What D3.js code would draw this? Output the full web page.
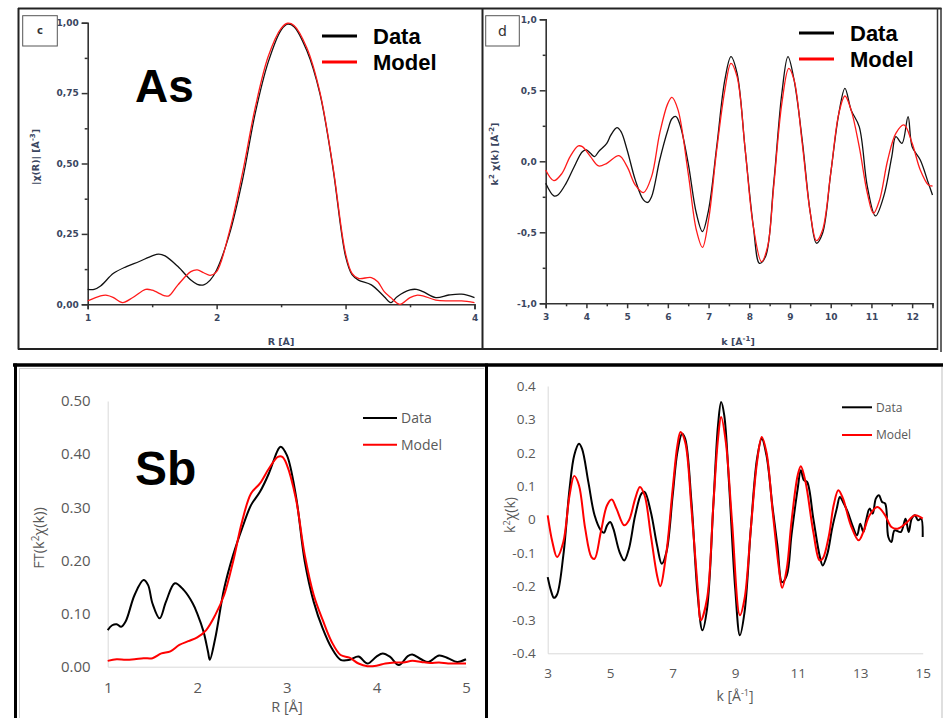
<!DOCTYPE html>
<html>
<head>
<meta charset="utf-8">
<script src="https://cdn.jsdelivr.net/npm/d3@7"></script>
<style>
	body { margin: 0; background: #fff; }
	svg { display: block; }
</style>
</head>
<body>
<div id="chart"></div>
<script>
// ---- As, Fourier transform |chi(R)| (panel c) ----
const asRDataR = [1.0,1.05,1.1,1.2,1.3,1.4,1.5,1.55,1.6,1.7,1.8,1.85,1.9,1.95,2.0,2.1,2.2,2.3,2.4,2.5,2.55,2.6,2.7,2.8,2.9,3.0,3.05,3.1,3.2,3.3,3.35,3.4,3.5,3.55,3.6,3.7,3.8,3.9,4.0]
const asRData = [0.053,0.053,0.065,0.11,0.134,0.152,0.172,0.178,0.172,0.134,0.086,0.071,0.069,0.086,0.122,0.25,0.44,0.68,0.86,0.974,0.995,0.986,0.90,0.75,0.49,0.17,0.105,0.086,0.069,0.027,0.006,0.027,0.051,0.053,0.045,0.024,0.033,0.036,0.024]
const asRModelR = [1.0,1.1,1.15,1.2,1.27,1.35,1.45,1.5,1.6,1.63,1.7,1.8,1.85,1.9,1.95,2.0,2.1,2.2,2.3,2.4,2.5,2.55,2.6,2.7,2.8,2.9,3.0,3.05,3.1,3.2,3.25,3.3,3.35,3.42,3.5,3.55,3.6,3.7,3.8,3.9,4.0]
const asRModel = [0.012,0.03,0.032,0.024,0.006,0.024,0.053,0.05,0.03,0.03,0.069,0.116,0.122,0.112,0.103,0.116,0.26,0.465,0.70,0.88,0.98,0.998,0.99,0.91,0.755,0.495,0.18,0.11,0.092,0.095,0.08,0.045,0.024,0.0,0.024,0.032,0.03,0.015,0.012,0.012,0.006]
const asRXTicks = [1, 2, 3, 4]
const asRXMinor = [1.5, 2.5, 3.5]
const asRYTicks = [0, 0.25, 0.5, 0.75, 1]
const asRYMinor = [0.125, 0.375, 0.625, 0.875]

// ---- As, k^2 chi(k) (panel d) ----
const asKDataK = [3.0,3.2,3.3,3.5,3.7,3.9,4.0,4.1,4.2,4.3,4.5,4.6,4.75,4.85,5.0,5.2,5.4,5.5,5.6,5.8,6.0,6.1,6.2,6.3,6.5,6.7,6.85,7.0,7.2,7.4,7.55,7.7,7.9,8.1,8.25,8.4,8.6,8.8,8.95,9.1,9.3,9.5,9.65,9.8,10.0,10.2,10.35,10.5,10.7,10.9,11.1,11.3,11.5,11.6,11.75,11.9,12.0,12.2,12.4,12.5]
const asKData = [-0.155,-0.244,-0.237,-0.155,-0.038,0.068,0.08,0.056,0.033,0.068,0.127,0.185,0.237,0.209,0.08,-0.131,-0.272,-0.29,-0.249,0.009,0.22,0.30,0.315,0.256,-0.014,-0.366,-0.495,-0.343,0.103,0.573,0.737,0.62,0.08,-0.46,-0.718,-0.67,-0.155,0.479,0.737,0.573,0.15,-0.366,-0.577,-0.507,-0.085,0.338,0.514,0.362,0.244,-0.178,-0.385,-0.249,0.033,0.174,0.127,0.315,0.103,0.009,-0.155,-0.237]
const asKModelK = [3.0,3.2,3.4,3.6,3.8,3.9,4.1,4.3,4.5,4.8,5.0,5.2,5.4,5.6,5.8,6.0,6.1,6.25,6.5,6.7,6.85,7.0,7.2,7.4,7.55,7.7,7.9,8.1,8.3,8.45,8.6,8.8,8.97,9.1,9.3,9.5,9.65,9.8,10.0,10.2,10.35,10.5,10.7,10.9,11.05,11.2,11.4,11.6,11.8,12.0,12.2,12.4,12.5]
const asKModel = [-0.061,-0.136,-0.085,0.033,0.108,0.103,0.033,-0.033,-0.014,0.04,-0.038,-0.167,-0.221,-0.108,0.197,0.408,0.45,0.362,-0.085,-0.484,-0.606,-0.413,0.08,0.502,0.69,0.596,0.08,-0.46,-0.707,-0.601,-0.178,0.408,0.655,0.573,0.127,-0.366,-0.559,-0.484,-0.085,0.338,0.46,0.362,0.103,-0.225,-0.366,-0.272,0.009,0.197,0.256,0.127,-0.061,-0.167,-0.174]
const asKXTicks = [3, 4, 5, 6, 7, 8, 9, 10, 11, 12]
const asKXMinor = [3.5, 4.5, 5.5, 6.5, 7.5, 8.5, 9.5, 10.5, 11.5, 12.5]
const asKYTicks = [-1, -0.5, 0, 0.5, 1]
const asKYMinor = [-0.75, -0.25, 0.25, 0.75]

// ---- Sb, FT(k^2 chi(k)) ----
const sbRDataR = [1.0,1.05,1.1,1.15,1.2,1.3,1.4,1.45,1.5,1.58,1.65,1.75,1.85,1.95,2.0,2.07,2.12,2.14,2.2,2.3,2.4,2.5,2.6,2.7,2.8,2.9,2.93,3.0,3.1,3.2,3.3,3.4,3.5,3.6,3.7,3.8,3.9,4.0,4.07,4.15,4.25,4.35,4.4,4.5,4.58,4.7,4.8,4.9,5.0]
const sbRData = [0.069,0.078,0.08,0.075,0.085,0.135,0.163,0.154,0.119,0.091,0.122,0.157,0.144,0.119,0.10,0.066,0.028,0.013,0.053,0.147,0.21,0.26,0.304,0.329,0.364,0.408,0.414,0.398,0.323,0.198,0.122,0.072,0.035,0.013,0.013,0.019,0.006,0.019,0.025,0.019,0.003,0.02,0.023,0.014,0.009,0.021,0.016,0.009,0.014]
const sbRModelR = [1.0,1.1,1.2,1.3,1.4,1.5,1.6,1.7,1.8,1.9,2.0,2.1,2.2,2.3,2.4,2.5,2.6,2.7,2.8,2.9,2.95,3.0,3.1,3.2,3.3,3.4,3.5,3.6,3.7,3.8,3.9,4.0,4.1,4.2,4.3,4.4,4.5,4.6,4.7,4.8,4.9,5.0]
const sbRModel = [0.011,0.014,0.013,0.014,0.016,0.016,0.025,0.029,0.041,0.048,0.055,0.069,0.097,0.135,0.198,0.273,0.326,0.345,0.373,0.395,0.395,0.38,0.317,0.21,0.135,0.088,0.047,0.022,0.017,0.006,0.001,0.002,0.006,0.008,0.008,0.011,0.009,0.007,0.008,0.006,0.006,0.006]
const sbRXTicks = [1, 2, 3, 4, 5]
const sbRYTicks = [0, 0.1, 0.2, 0.3, 0.4, 0.5]

// ---- Sb, k^2 chi(k) ----
const sbKDataK = [3.0,3.1,3.2,3.3,3.5,3.7,3.85,4.0,4.1,4.3,4.5,4.7,4.8,4.9,5.0,5.1,5.3,5.45,5.6,5.8,6.0,6.1,6.3,6.5,6.65,6.8,7.0,7.15,7.3,7.4,7.6,7.8,7.95,8.1,8.3,8.45,8.55,8.65,8.8,9.0,9.15,9.3,9.5,9.7,9.85,10.0,10.2,10.35,10.5,10.65,10.8,11.0,11.1,11.2,11.3,11.5,11.7,11.8,11.95,12.1,12.25,12.35,12.45,12.6,12.75,12.9,13.0,13.1,13.2,13.3,13.4,13.5,13.6,13.7,13.8,13.9,14.0,14.1,14.3,14.45,14.55,14.65,14.75,14.85,14.95,15.0]
const sbKData = [-0.172,-0.211,-0.234,-0.224,-0.107,0.093,0.193,0.227,0.212,0.113,0.013,-0.032,-0.039,-0.017,-0.007,-0.027,-0.097,-0.122,-0.087,0.013,0.078,0.083,0.023,-0.077,-0.132,-0.097,0.073,0.202,0.257,0.242,0.053,-0.226,-0.331,-0.266,0.043,0.282,0.352,0.312,0.113,-0.206,-0.346,-0.276,-0.027,0.183,0.242,0.193,0.033,-0.077,-0.187,-0.167,-0.047,0.093,0.148,0.118,0.113,0.003,-0.107,-0.137,-0.102,-0.027,0.033,0.068,0.053,0.023,-0.017,-0.047,-0.012,-0.037,0.003,0.033,0.018,0.063,0.073,0.053,0.048,-0.052,-0.067,-0.032,-0.037,0.003,-0.037,0.003,0.013,-0.002,0.003,-0.052]
const sbKModelK = [3.0,3.15,3.3,3.5,3.7,3.85,4.0,4.2,4.4,4.5,4.7,4.9,5.05,5.2,5.45,5.6,5.8,5.95,6.1,6.3,6.5,6.6,6.8,7.0,7.15,7.25,7.4,7.6,7.8,7.9,8.1,8.3,8.45,8.55,8.7,8.9,9.15,9.3,9.5,9.7,9.85,10.0,10.2,10.4,10.5,10.65,10.8,11.0,11.1,11.25,11.5,11.7,11.8,12.0,12.15,12.3,12.45,12.7,12.95,13.1,13.3,13.55,13.8,14.0,14.2,14.45,14.75,15.0]
const sbKModel = [0.013,-0.067,-0.112,-0.067,0.073,0.131,0.103,-0.027,-0.112,-0.117,-0.037,0.043,0.06,0.033,-0.017,-0.002,0.063,0.098,0.073,-0.047,-0.167,-0.199,-0.097,0.093,0.222,0.262,0.232,0.033,-0.206,-0.301,-0.236,0.043,0.242,0.307,0.232,-0.007,-0.286,-0.236,-0.027,0.173,0.247,0.202,0.023,-0.147,-0.204,-0.147,-0.007,0.133,0.16,0.113,-0.037,-0.122,-0.117,-0.047,0.043,0.088,0.063,-0.017,-0.062,-0.037,0.013,0.038,0.013,-0.022,-0.027,-0.012,0.013,0.003]
const sbKXTicks = [3, 5, 7, 9, 11, 13, 15]
const sbKYTicks = [-0.4, -0.3, -0.2, -0.1, 0, 0.1, 0.2, 0.3, 0.4]

const seriesNames = ['Data', 'Model']
const seriesColors = ['#111', '#ff1a1a']

const svg = d3.select('#chart')
	.append('svg')
	.attr('width', 943)
	.attr('height', 718)

svg.append('rect').attr('width', 943).attr('height', 718).attr('fill', '#fff')

// panel frames (pasted figure borders)
function frameLine(x1, y1, x2, y2, color, w) {
	svg.append('line')
		.attr('x1', x1).attr('y1', y1).attr('x2', x2).attr('y2', y2)
		.attr('stroke', color).attr('stroke-width', w)
}
frameLine(18.5, 8, 18.5, 349.5, '#222', 2)
frameLine(18, 8.5, 941.5, 8.5, '#222', 2)
frameLine(482.5, 8, 482.5, 349, '#222', 2)
frameLine(18, 349, 938, 349, '#222', 2)
frameLine(937.5, 8, 937.5, 350, '#333', 1.5)
frameLine(941, 8, 941, 352, '#333', 1.5)
frameLine(19.5, 368.5, 484, 368.5, '#d0d0d0', 1)
frameLine(19.5, 368, 19.5, 718, '#d0d0d0', 1)
frameLine(942, 367, 942, 718, '#bfbfbf', 1)
frameLine(13, 365, 943, 365, '#000', 3.5)
frameLine(15.5, 363.5, 15.5, 718, '#000', 3)
frameLine(486.5, 363.5, 486.5, 718, '#000', 3)

const commaFmt = dec => d => {
	const s = Math.abs(d).toFixed(dec).replace('.', ',')
	return (d < 0 ? '-' : '') + s
}
const dotFmt = dec => d => {
	if (Math.abs(d) < 1e-9) return '0'
	return (d < 0 ? '-' : '') + Math.abs(d).toFixed(dec)
}

function panel(cfg) {
	const x = d3.scaleLinear().domain(cfg.xDomain).range([cfg.left, cfg.right])
	const y = d3.scaleLinear().domain(cfg.yDomain).range([cfg.bottom, cfg.top])
	const g = svg.append('g')
	const origin = cfg.style === 'origin'

	const xAxis = d3.axisBottom(x).tickValues(cfg.xTicks).tickFormat(cfg.xFmt)
	const yAxis = d3.axisLeft(y).tickValues(cfg.yTicks).tickFormat(cfg.yFmt)
	if (origin) {
		xAxis.tickSize(5).tickPadding(5)
		yAxis.tickSize(6).tickPadding(3)
	} else {
		xAxis.tickSize(0).tickPadding(cfg.xPad)
		yAxis.tickSize(0).tickPadding(cfg.yPad)
	}
	const axisColor = origin ? '#333' : '#d9d9d9'
	const textColor = origin ? '#3b4660' : '#595959'

	const gx = g.append('g').attr('transform', `translate(0,${cfg.bottom})`).call(xAxis)
	const gy = g.append('g').attr('transform', `translate(${cfg.left},0)`).call(yAxis)
	for (const a of [gx, gy]) {
		a.select('.domain').attr('stroke', axisColor).attr('stroke-width', origin ? 1.6 : 1)
		a.selectAll('.tick line').attr('stroke', axisColor).attr('stroke-width', 1.5)
		a.selectAll('text')
			.attr('fill', textColor)
			.attr('font-family', origin ? 'DejaVu Sans' : 'Open Sans')
			.attr('font-weight', origin ? 'bold' : 'normal')
			.attr('font-size', cfg.tickSize)
	}
	if (origin) {
		g.append('g').attr('transform', `translate(0,${cfg.bottom})`)
			.call(d3.axisBottom(x).tickValues(cfg.xMinor).tickSize(3).tickFormat(''))
			.call(a => a.select('.domain').remove())
			.selectAll('.tick line').attr('stroke', axisColor).attr('stroke-width', 1.5)
		g.append('g').attr('transform', `translate(${cfg.left},0)`)
			.call(d3.axisLeft(y).tickValues(cfg.yMinor).tickSize(3).tickFormat(''))
			.call(a => a.select('.domain').remove())
			.selectAll('.tick line').attr('stroke', axisColor).attr('stroke-width', 1.5)
	}

	const line = d3.line()
		.x(d => x(d[0]))
		.y(d => y(d[1]))
		.curve(d3.curveCatmullRom.alpha(0.5))

	cfg.series.forEach((s, i) => {
		g.append('path')
			.datum(d3.zip(s.x, s.y))
			.attr('fill', 'none')
			.attr('stroke', origin ? seriesColors[i] : ['#000', '#ff0000'][i])
			.attr('stroke-width', cfg.lineWidth)
			.attr('stroke-linejoin', 'round')
			.attr('d', line)
	})

	// axis titles
	g.append('text')
		.attr('x', cfg.xTitlePos[0]).attr('y', cfg.xTitlePos[1])
		.attr('text-anchor', 'middle')
		.attr('fill', textColor)
		.attr('font-family', origin ? 'DejaVu Sans' : 'Open Sans')
		.attr('font-weight', origin ? 'bold' : 'normal')
		.attr('font-size', cfg.titleSize)
		.html(cfg.xTitle)
	g.append('text')
		.attr('transform', `translate(${cfg.yTitlePos[0]},${cfg.yTitlePos[1]}) rotate(-90)`)
		.attr('text-anchor', 'middle')
		.attr('fill', textColor)
		.attr('font-family', origin ? 'DejaVu Sans' : 'Open Sans')
		.attr('font-weight', origin ? 'bold' : 'normal')
		.attr('font-size', cfg.titleSize)
		.html(cfg.yTitle)

	// legend
	const L = cfg.legend
	seriesNames.forEach((name, i) => {
		const ly = L.y + i * L.gap
		g.append('line')
			.attr('x1', L.x).attr('x2', L.x + L.len)
			.attr('y1', ly).attr('y2', ly)
			.attr('stroke', ['#000', '#ff0000'][i])
			.attr('stroke-width', L.width)
		g.append('text')
			.attr('x', L.x + L.len + L.pad).attr('y', ly)
			.attr('dy', '0.36em')
			.attr('fill', L.color)
			.attr('font-family', L.font)
			.attr('font-weight', L.weight)
			.attr('font-size', L.size)
			.text(name)
	})

	// element label
	if (cfg.element) {
		g.append('text')
			.attr('x', cfg.element.x).attr('y', cfg.element.y)
			.attr('font-family', 'Liberation Sans, Arial, sans-serif')
			.attr('font-weight', 'bold')
			.attr('font-size', cfg.element.size)
			.attr('fill', '#000')
			.text(cfg.element.text)
	}
	// panel letter box
	if (cfg.letter) {
		const b = cfg.letter
		g.append('rect')
			.attr('x', b.x).attr('y', b.y).attr('width', b.w).attr('height', b.h)
			.attr('fill', '#fff').attr('stroke', '#555').attr('stroke-width', 1)
		g.append('text')
			.attr('x', b.x + b.w / 2).attr('y', b.y + b.h / 2)
			.attr('dy', '0.35em').attr('text-anchor', 'middle')
			.attr('font-family', 'DejaVu Sans')
			.attr('font-weight', b.weight)
			.attr('font-size', b.size)
			.attr('fill', '#333')
			.text(b.text)
	}
}

const bigLegend = { len: 35, pad: 16, gap: 26, width: 3, color: '#000', font: 'Liberation Sans, Arial, sans-serif', weight: 'bold', size: 22 }

panel({
	style: 'origin',
	left: 87.7, right: 474.5, top: 22.7, bottom: 304.3,
	xDomain: [1, 4], yDomain: [0, 1],
	xTicks: asRXTicks, xMinor: asRXMinor, yTicks: asRYTicks, yMinor: asRYMinor,
	xFmt: d3.format('d'), yFmt: commaFmt(2),
	tickSize: 9, titleSize: 9.5, lineWidth: 1.3,
	series: [{ x: asRDataR, y: asRData }, { x: asRModelR, y: asRModel }],
	xTitle: 'R [Å]', xTitlePos: [281, 344.5],
	yTitle: '|χ(R)| [Å<tspan dy="-4" font-size="7">-3</tspan><tspan dy="4">]</tspan>', yTitlePos: [38.5, 157],
	legend: Object.assign({ x: 322, y: 36 }, bigLegend),
	element: { text: 'As', x: 135, y: 102, size: 46 },
	letter: { text: 'c', x: 22.7, y: 15.7, w: 34.6, h: 30.3, size: 10, weight: 'bold' }
})

panel({
	style: 'origin',
	left: 545.7, right: 932.5, top: 19.3, bottom: 303.3,
	xDomain: [3, 12.5], yDomain: [-1, 1],
	xTicks: asKXTicks, xMinor: asKXMinor, yTicks: asKYTicks, yMinor: asKYMinor,
	xFmt: d3.format('d'), yFmt: commaFmt(1),
	tickSize: 9, titleSize: 9.5, lineWidth: 1.3,
	series: [{ x: asKDataK, y: asKData }, { x: asKModelK, y: asKModel }],
	xTitle: 'k [Å<tspan dy="-4" font-size="7">-1</tspan><tspan dy="4">]</tspan>', xTitlePos: [738, 344.5],
	yTitle: 'k<tspan dy="-4" font-size="7">2</tspan><tspan dy="4"> χ(k) [Å</tspan><tspan dy="-4" font-size="7">-2</tspan><tspan dy="4">]</tspan>', yTitlePos: [498, 154],
	legend: Object.assign({ x: 799, y: 33 }, bigLegend),
	letter: { text: 'd', x: 485.7, y: 15.7, w: 33.6, h: 30.3, size: 14, weight: 'normal' }
})

panel({
	style: 'excel',
	left: 107.7, right: 466, top: 401, bottom: 666.7,
	xDomain: [1, 5], yDomain: [0, 0.5],
	xTicks: sbRXTicks, yTicks: sbRYTicks,
	xFmt: d3.format('d'), yFmt: d3.format('.2f'),
	xPad: 16, yPad: 17,
	tickSize: 15, titleSize: 14.5, lineWidth: 2,
	series: [{ x: sbRDataR, y: sbRData }, { x: sbRModelR, y: sbRModel }],
	xTitle: 'R [Å]', xTitlePos: [287, 712],
	yTitle: 'FT(k<tspan dy="-5" font-size="10">2</tspan><tspan dy="5">χ(k))</tspan>', yTitlePos: [44, 538],
	legend: { x: 363, y: 418, len: 34, pad: 4, gap: 26.7, width: 2, color: '#595959', font: 'Open Sans', weight: 'normal', size: 14 },
	element: { text: 'Sb', x: 135, y: 485, size: 48 }
})

panel({
	style: 'excel',
	left: 547.7, right: 922.7, top: 386, bottom: 653.3,
	xDomain: [3, 15], yDomain: [-0.4, 0.4],
	xTicks: sbKXTicks, yTicks: sbKYTicks,
	xFmt: d3.format('d'), yFmt: dotFmt(1),
	xPad: 15, yPad: 12,
	tickSize: 13.5, titleSize: 14, lineWidth: 2,
	series: [{ x: sbKDataK, y: sbKData }, { x: sbKModelK, y: sbKModel }],
	xTitle: 'k [Å<tspan dy="-5" font-size="9">-1</tspan><tspan dy="5">]</tspan>', xTitlePos: [735, 701],
	yTitle: 'k<tspan dy="-5" font-size="9">2</tspan><tspan dy="5">χ(k)</tspan>', yTitlePos: [515, 515],
	legend: { x: 842, y: 407.3, len: 30, pad: 4, gap: 27.7, width: 2, color: '#595959', font: 'Open Sans', weight: 'normal', size: 12 }
})
</script>
</body>
</html>
